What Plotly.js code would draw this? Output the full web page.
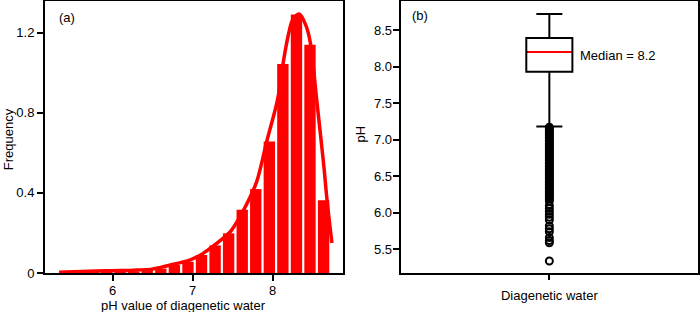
<!DOCTYPE html>
<html>
<head>
<meta charset="utf-8">
<script src="https://cdn.plot.ly/plotly-3.0.1.min.js"></script>
<style>html,body{margin:0;padding:0;background:#fff;}#chart{width:700px;height:312px;}</style>
</head>
<body>
<div id="chart"></div>
<script>
// Panel (a): histogram of pH values (bin centres and frequency densities)
const binCenters = [5.415, 5.585, 5.754, 5.924, 6.094, 6.263, 6.432, 6.602, 6.771, 6.941,
                    7.110, 7.280, 7.449, 7.619, 7.788, 7.958, 8.127, 8.297, 8.466, 8.636];
const binFreq = [0.003, 0.002, 0.005, 0.005, 0.006, 0.008, 0.013, 0.022, 0.040, 0.056,
                 0.090, 0.138, 0.198, 0.316, 0.419, 0.657, 1.043, 1.290, 1.140, 0.363];
// Kernel density curve
const kdeX = [5.33, 5.5, 5.7, 5.9, 6.1, 6.3, 6.47, 6.6, 6.72, 6.85, 6.97, 7.13, 7.3, 7.47, 7.59,
              7.72, 7.8, 7.93, 8.06, 8.13, 8.2, 8.25, 8.33, 8.42, 8.47, 8.55, 8.6, 8.64, 8.68, 8.74];
const kdeY = [0.004, 0.006, 0.009, 0.011, 0.012, 0.015, 0.018, 0.028, 0.040, 0.052, 0.065, 0.098, 0.148, 0.206, 0.281,
              0.381, 0.456, 0.664, 0.864, 1.047, 1.197, 1.263, 1.293, 1.23, 1.15, 0.864, 0.68, 0.53, 0.36, 0.15];
const xTicksA = [6, 7, 8];
const yTicksA = [0, 0.4, 0.8, 1.2];
const yTickTextA = ['0', '0.4', '0.8', '1.2'];
const xTitleA = 'pH value of diagenetic water';
const yTitleA = 'Frequency';

// Panel (b): box plot statistics
const boxCategory = ['Diagenetic water'];
const yTitleB = 'pH';
const q1 = 7.93, median = 8.2, q3 = 8.39, lowerFence = 7.18, upperFence = 8.72;
const outliers = [7.17, 7.15, 7.13, 7.11, 7.09, 7.07, 7.05, 7.03, 7.01, 6.99, 6.97, 6.95, 6.93, 6.91,
                  6.89, 6.87, 6.85, 6.83, 6.81, 6.79, 6.77, 6.75, 6.73, 6.71, 6.69, 6.67, 6.65, 6.63,
                  6.61, 6.59, 6.57, 6.55, 6.53, 6.51, 6.49, 6.47, 6.45, 6.43, 6.41, 6.39, 6.37, 6.35,
                  6.33, 6.31, 6.29, 6.27, 6.25, 6.23, 6.21, 6.19, 6.16, 6.10, 6.06, 6.02, 5.98,
                  5.94, 5.90, 5.82, 5.78, 5.74, 5.66, 5.62, 5.59, 5.34];
const yTicksB = [5.5, 6.0, 6.5, 7.0, 7.5, 8.0, 8.5];

const FONT = 'Liberation Sans, Arial, Helvetica, sans-serif';
const BOXW = 0.155;
const catPos = 0;

const traces = [
  {
    type: 'bar', x: binCenters, y: binFreq, xaxis: 'x', yaxis: 'y',
    marker: {color: '#ff0000', line: {width: 0}}, hoverinfo: 'skip'
  },
  {
    type: 'scatter', mode: 'lines', x: kdeX, y: kdeY, xaxis: 'x', yaxis: 'y',
    line: {color: '#ff0000', width: 3.5, shape: 'spline', smoothing: 1}, hoverinfo: 'skip'
  },
  {
    type: 'box', x: [catPos], q1: [q1], median: [median], q3: [q3],
    lowerfence: [lowerFence], upperfence: [upperFence],
    xaxis: 'x2', yaxis: 'y2', width: BOXW, whiskerwidth: 0.565,
    line: {color: '#000', width: 2}, fillcolor: '#fff', boxpoints: false, hoverinfo: 'skip'
  },
  {
    type: 'scatter', mode: 'lines', x: [catPos - BOXW / 2 + 0.004, catPos + BOXW / 2 - 0.004], y: [median, median],
    xaxis: 'x2', yaxis: 'y2', line: {color: '#ff0000', width: 2}, hoverinfo: 'skip'
  },
  {
    type: 'scatter', mode: 'markers', x: outliers.map(() => catPos), y: outliers,
    xaxis: 'x2', yaxis: 'y2',
    marker: {symbol: 'circle-open', size: 7, color: '#000', line: {width: 2, color: '#000'}}, hoverinfo: 'skip'
  }
];

const axisCommon = {
  showline: true, linecolor: '#000', linewidth: 2, mirror: true,
  showgrid: false, zeroline: false, ticks: 'outside', tickcolor: '#000', tickwidth: 2,
  tickfont: {family: FONT, size: 13, color: '#000'}
};
const tFont = {family: FONT, size: 13, color: '#000'};

const layout = {
  width: 700, height: 312,
  margin: {l: 45, r: 2, t: 1, b: 39},
  paper_bgcolor: '#fff', plot_bgcolor: '#fff',
  showlegend: false, bargap: 0.16,
  font: tFont,
  xaxis: Object.assign({}, axisCommon, {
    domain: [0, 0.4564], range: [5.154, 8.879], tickmode: 'array', tickvals: xTicksA, ticklen: 6,
    anchor: 'y', ticklabelstandoff: -2
  }),
  yaxis: Object.assign({}, axisCommon, {
    range: [0, 1.358], tickmode: 'array', tickvals: yTicksA, ticktext: yTickTextA, ticklen: 6,
    anchor: 'x'
  }),
  xaxis2: Object.assign({}, axisCommon, {
    domain: [0.5447, 1], range: [-0.5, 0.5], tickmode: 'array', tickvals: [catPos], ticktext: boxCategory,
    ticklen: 5, anchor: 'y2', ticklabelstandoff: 4
  }),
  yaxis2: Object.assign({}, axisCommon, {
    range: [5.176, 8.897], tickmode: 'array', tickvals: yTicksB, tickformat: '.1f', ticklen: 6,
    anchor: 'x2', ticklabelstandoff: -2
  }),
  annotations: [
    {text: xTitleA, xref: 'x', yref: 'paper', x: 6.89, y: 0, yshift: -24, xanchor: 'center', yanchor: 'top',
     borderpad: 0, showarrow: false, font: tFont},
    {text: yTitleA, xref: 'paper', yref: 'y domain', x: 0, xshift: -45, y: 0.49, textangle: -90,
     xanchor: 'left', yanchor: 'middle', borderpad: 0, showarrow: false, font: tFont},
    {text: yTitleB, xref: 'x2 domain', yref: 'y2 domain', x: 0, xshift: -32, y: 0.51, textangle: -90,
     xanchor: 'right', yanchor: 'middle', borderpad: 0, showarrow: false, font: tFont},
    {text: '(a)', xref: 'x domain', yref: 'y domain', x: 0.04, y: 0.939, xanchor: 'left', yanchor: 'middle',
     showarrow: false, font: tFont},
    {text: '(b)', xref: 'x2 domain', yref: 'y2 domain', x: 0.031, y: 0.948, xanchor: 'left', yanchor: 'middle',
     showarrow: false, font: tFont},
    {text: 'Median = ' + median.toFixed(1), xref: 'x2', yref: 'y2', x: catPos + 0.0975, y: 8.155,
     xanchor: 'left', yanchor: 'middle', showarrow: false, font: tFont}
  ]
};

Plotly.newPlot('chart', traces, layout, {staticPlot: true, displayModeBar: false});
</script>
</body>
</html>
